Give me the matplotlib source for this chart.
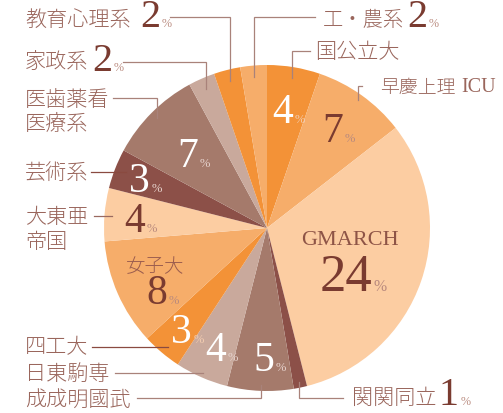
import numpy as np
import matplotlib
matplotlib.use("Agg")
import matplotlib.pyplot as plt

# データ（時計回り、12時の位置から）
categories = ["国公立大", "早慶上理ICU", "GMARCH", "関関同立", "成成明國武", "日東駒専",
              "四工大", "女子大", "大東亜帝国", "芸術系", "医歯薬看医療系", "家政系",
              "教育心理系", "工・農系"]
values = [4, 7, 24, 1, 5, 4, 3, 8, 4, 3, 7, 2, 2, 2]
colors = ["#F39237", "#F6AD6A", "#FCCDA2", "#8C5048", "#A57A6B", "#C9A99C",
          "#F39237", "#F6AD6A", "#FCCDA2", "#8C5048", "#A57A6B", "#C9A99C",
          "#F39237", "#F6AD6A"]

W, H = 503, 414
CX, CY, R = 267, 229, 163

CJK = ["Noto Sans CJK JP", "DejaVu Sans"]
SERIF = "Liberation Serif"
c_lab = "#9A665C"
c_num = "#7A3B30"
c_line = "#A9827A"
c_dark = "#8A4A40"

fig = plt.figure(figsize=(W / 100, H / 100), dpi=100)
ax = fig.add_axes([0, 0, 1, 1])

# y軸を反転しているので、counterclock=True が見た目の時計回り
ax.pie(values, colors=colors, center=(CX, CY), radius=R, startangle=-90,
       counterclock=True, wedgeprops=dict(linewidth=0), frame=True)
ax.set_xlim(0, W)
ax.set_ylim(H, 0)
ax.set_aspect("equal")
ax.axis("off")

# 各スライスの中央角（12時から時計回り、度）
cum = np.cumsum([0] + values)
mid_ang = (cum[:-1] + cum[1:]) / 2 / cum[-1] * 360


def inner_pt(i, r):
    a = np.deg2rad(mid_ang[i])
    return CX + r * np.sin(a), CY - r * np.cos(a)


def label(x, y, s, size=15.2, color=c_lab, ha="left"):
    ax.text(x, y, s, fontsize=size, color=color, ha=ha, va="center",
            family=CJK, fontweight="light")


def pct(x, y, num, size=30, color=c_num, pcolor="#B98A7E"):
    # x = 数字と%の境目, y = ベースライン
    ax.text(x, y, num, fontsize=size, color=color, ha="right", va="baseline",
            family=SERIF)
    ax.text(x + 1.5, y, "%", fontsize=size * 0.3, color=pcolor, ha="left",
            va="baseline", family=SERIF)


def elbow(i, r, xh, yh, color=c_line):
    ex, ey = inner_pt(i, r)
    ax.plot([xh, ex, ex], [yh, yh, ey], color=color, lw=0.9,
            solid_joinstyle="miter")


def hline(x0, x1, y, color=c_line):
    ax.plot([x0, x1], [y, y], color=color, lw=0.9)


W_PCT = "#E6D2CC"
W_PCT2 = "#F2CCB0"

# 外側ラベル
label(25, 20, "教育心理系")
pct(160, 27, "2", size=29)
elbow(12, 152, 170, 18)

label(25, 62, "家政系")
pct(112, 71, "2", size=29)
elbow(11, 152, 123, 63)

label(25, 100, "医歯薬看")
label(25, 124, "医療系")
elbow(10, 155, 113, 99)

label(25, 173, "芸術系")
hline(91, 126, 173, c_dark)

label(25, 217, "大東亜")
label(25, 242, "帝国")
hline(94, 112, 217, "#9A6A60")

label(25, 347, "四工大")
hline(92, 168, 348, c_dark)

label(25, 374, "日東駒専")
hline(115, 203, 374)

label(25, 400, "成成明國武")
elbow(4, 157, 137, 399)

label(352, 398, "関関同立")
pct(459, 405, "1", size=29)
elbow(3, 157, 343, 399)

label(323, 20, "工・農系", size=14.6)
pct(427, 27, "2", size=29)
elbow(13, 152, 315, 18)

label(315, 52, "国公立大")
elbow(0, 152, 310, 52)

label(380, 88, "早慶上理", size=13.6)
ax.text(461, 88, "ICU", fontsize=14.5, color=c_lab, ha="left", va="center",
        family=SERIF)
elbow(1, 157, 362, 87)

# スライス内のラベル
pct(293, 123, "4", color="white", pcolor=W_PCT2)
pct(343, 142, "7")
ax.text(350, 241, "GMARCH", fontsize=16, color="#8E5446", ha="center",
        va="center", family=SERIF)
pct(372, 291, "24", size=38)
pct(274, 371, "5", color="white", pcolor=W_PCT)
pct(226, 361, "4", color="white", pcolor=W_PCT)
pct(192, 343, "3", color="white", pcolor=W_PCT2)
label(155, 267, "女子大", size=14, color="#9A5C4E", ha="center")
pct(167, 304, "8")
pct(145, 232, "4")
pct(150, 192, "3", color="white", pcolor=W_PCT)
pct(198, 167, "7", color="white", pcolor=W_PCT)

fig.savefig("out.png", dpi=100)
